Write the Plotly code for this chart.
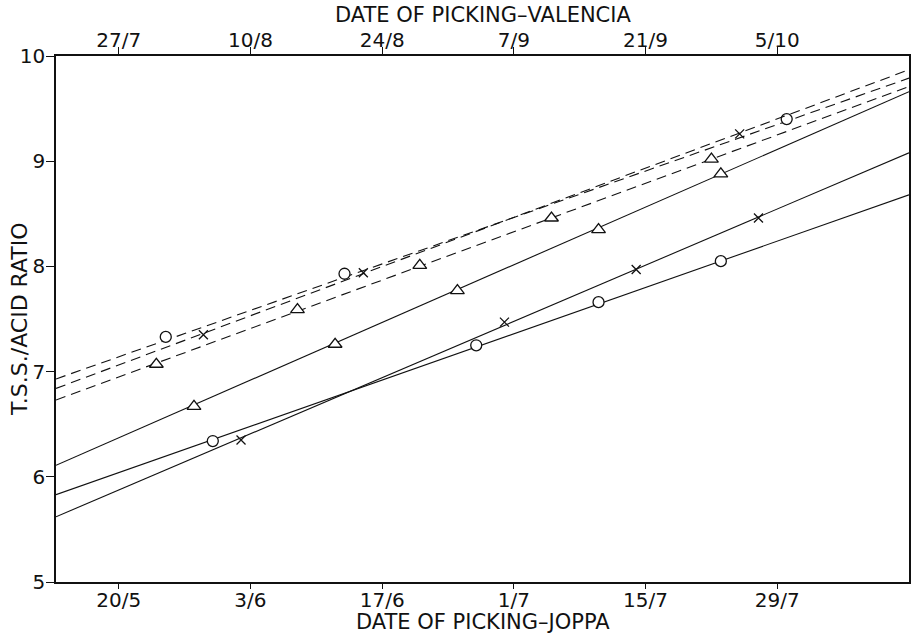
from datetime import datetime, timedelta
import plotly.graph_objects as go

YEAR = 1966

# Joppa pickings (solid lines, bottom date axis)
joppa_tri_dates = ["05-28", "06-12", "06-25", "07-10", "07-23"]
joppa_tri_ratio = [6.67, 7.26, 7.77, 8.35, 8.88]
joppa_x_dates = ["06-02", "06-30", "07-14", "07-27"]
joppa_x_ratio = [6.35, 7.47, 7.97, 8.46]
joppa_o_dates = ["05-30", "06-27", "07-10", "07-23"]
joppa_o_ratio = [6.34, 7.25, 7.66, 8.05]

# Valencia pickings (dashed lines, top date axis)
val_o_dates = ["08-01", "08-20", "10-06"]
val_o_ratio = [7.33, 7.93, 9.40]
val_x_dates = ["08-05", "08-22", "10-01"]
val_x_ratio = [7.35, 7.94, 9.26]
val_tri_dates = ["07-31", "08-15", "08-28", "09-11", "09-28"]
val_tri_ratio = [7.07, 7.59, 8.01, 8.46, 9.02]

# Fitted regression lines: ratio at the start and end of the plotted period
joppa_tri_fit = [6.11, 9.66]
joppa_x_fit = [5.62, 9.08]
joppa_o_fit = [5.83, 8.68]
val_o_fit = [6.93, 9.79]
val_x_fit = [6.84, 9.87]
val_tri_fit = [6.73, 9.71]

# Axis ticks
joppa_tick_dates = ["05-20", "06-03", "06-17", "07-01", "07-15", "07-29"]
joppa_tick_text = ["20/5", "3/6", "17/6", "1/7", "15/7", "29/7"]
val_tick_dates = ["07-27", "08-10", "08-24", "09-07", "09-21", "10-05"]
val_tick_text = ["27/7", "10/8", "24/8", "7/9", "21/9", "5/10"]
ratio_ticks = [5, 6, 7, 8, 9, 10]


def d(md):
    return f"{YEAR}-{md}"


def ds(mds):
    return [d(m) for m in mds]


# Both axes cover the same span; the Valencia calendar runs 68 days later
joppa_start = datetime(YEAR, 5, 13, 8)
joppa_end = datetime(YEAR, 8, 12)
shift = timedelta(days=68)
val_start = joppa_start + shift
val_end = joppa_end + shift
fmt = "%Y-%m-%d %H:%M"
joppa_range = [joppa_start.strftime(fmt), joppa_end.strftime(fmt)]
val_range = [val_start.strftime(fmt), val_end.strftime(fmt)]

FONT = "DejaVu Sans"
BLACK = "#111111"
TICK_SIZE = 20
TITLE_SIZE = 21

fig = go.Figure()


def add_series(dates, ratio, fit, symbol, xaxis, dash):
    rng = joppa_range if xaxis == "x" else val_range
    fig.add_trace(go.Scatter(
        x=rng, y=fit, xaxis=xaxis, yaxis="y", mode="lines",
        line=dict(color=BLACK, width=1.1, dash=dash),
        hoverinfo="skip", showlegend=False,
    ))
    if symbol.startswith("x"):
        marker = dict(symbol=symbol, size=9, color=BLACK,
                      line=dict(color=BLACK, width=1.3))
    elif symbol.startswith("triangle"):
        marker = dict(symbol=symbol, size=12, color="white",
                      line=dict(color=BLACK, width=1.3))
    else:
        marker = dict(symbol=symbol, size=11, color="white",
                      line=dict(color=BLACK, width=1.3))
    fig.add_trace(go.Scatter(
        x=ds(dates), y=ratio, xaxis=xaxis, yaxis="y", mode="markers",
        marker=marker, showlegend=False,
    ))


dash_style = "10px,6px"
add_series(val_o_dates, val_o_ratio, val_o_fit, "circle", "x2", dash_style)
add_series(val_x_dates, val_x_ratio, val_x_fit, "x-thin", "x2", dash_style)
add_series(val_tri_dates, val_tri_ratio, val_tri_fit, "triangle-up", "x2", dash_style)
add_series(joppa_tri_dates, joppa_tri_ratio, joppa_tri_fit, "triangle-up", "x", "solid")
add_series(joppa_x_dates, joppa_x_ratio, joppa_x_fit, "x-thin", "x", "solid")
add_series(joppa_o_dates, joppa_o_ratio, joppa_o_fit, "circle", "x", "solid")

axis_common = dict(
    showgrid=False, zeroline=False, showline=True, linecolor=BLACK,
    linewidth=1.6, ticks="outside", tickcolor=BLACK, tickwidth=1.2,
    tickfont=dict(family=FONT, size=TICK_SIZE, color=BLACK),
)
title_font = dict(family=FONT, size=TITLE_SIZE, color=BLACK)

fig.update_layout(
    width=912, height=635,
    margin=dict(l=56, r=1, t=56, b=53),
    paper_bgcolor="white", plot_bgcolor="white",
    font=dict(family=FONT, color=BLACK),
    xaxis=dict(
        type="date", range=joppa_range, side="bottom", ticklen=5,
        ticklabelstandoff=-6,
        tickvals=ds(joppa_tick_dates), ticktext=joppa_tick_text,
        **axis_common,
    ),
    xaxis2=dict(
        type="date", range=val_range, side="top", overlaying="x",
        anchor="y", ticklen=7, ticklabelstandoff=-8,
        tickvals=ds(val_tick_dates), ticktext=val_tick_text,
        **axis_common,
    ),
    yaxis=dict(
        range=[5, 10], tickvals=ratio_ticks, ticklen=8, mirror=True,
        ticklabelstandoff=-3,
        **axis_common,
    ),
)

# Axis titles placed just outside the frame
fig.add_annotation(text="DATE OF PICKING–VALENCIA", xref="paper", yref="paper",
                   x=0.5, y=1, yanchor="middle", yshift=41, showarrow=False,
                   font=title_font)
fig.add_annotation(text="DATE OF PICKING–JOPPA", xref="paper", yref="paper",
                   x=0.5, y=0, yanchor="middle", yshift=-40, showarrow=False,
                   font=title_font)
fig.add_annotation(text="T.S.S./ACID RATIO", xref="paper", yref="paper",
                   x=0, y=0.5, xanchor="center", xshift=-37, textangle=-90,
                   showarrow=False, font=dict(family=FONT, size=22, color=BLACK))

fig.write_html("out.html")
